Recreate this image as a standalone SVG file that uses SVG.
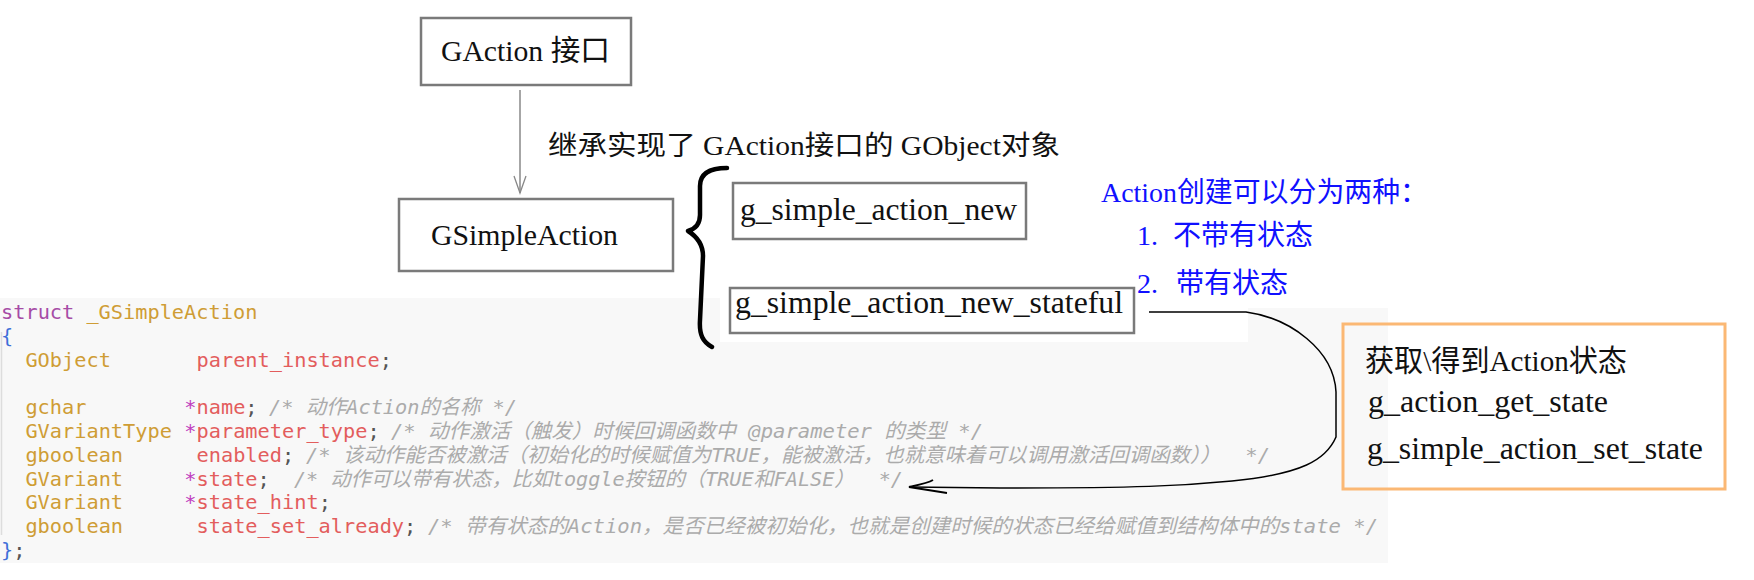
<svg xmlns="http://www.w3.org/2000/svg" width="1754" height="580" viewBox="0 0 1754 580">
<style>
.box{fill:#fff;stroke:#7a7a7a;stroke-width:2.5}
.lbl{font-family:"Liberation Serif","Noto Sans CJK SC",serif;fill:#111}
.blue{font-family:"Liberation Serif","Noto Sans CJK SC",serif;fill:#1010ff;font-size:28px}
.code{font-family:"DejaVu Sans Mono","Noto Sans CJK SC",monospace;font-size:20.3px}
.kw{fill:#a64ca6}
.ty{fill:#cf9d35}
.id{fill:#e35d5d}
.pt{fill:#c040c0}
.sc{fill:#555}
.br{fill:#3f6fd8}
.cm{fill:#ababab;font-style:italic}
</style>
<defs>
<marker id="vhead" viewBox="0 0 20 14" refX="18" refY="7" markerWidth="20" markerHeight="14" markerUnits="userSpaceOnUse" orient="auto">
<path d="M1,1 L18,7 L1,13" fill="none" stroke="#888" stroke-width="1.3"/>
</marker>
</defs>
<rect width="1754" height="580" fill="#fff"/>

<g id="node-code">
<rect x="0" y="298" width="1388" height="265" fill="#f8f8f8"/>
<rect x="720" y="298" width="528" height="44" fill="#fff"/>
<rect x="1248" y="298" width="140" height="10" fill="#fff"/>
<line x1="1.5" y1="332" x2="1.5" y2="535" stroke="#ddd" stroke-width="1.5"/>
<text class="code" y="319"><tspan class="kw" x="1">struct</tspan><tspan class="ty" x="86.4">_GSimpleAction</tspan></text>
<text class="code" y="343"><tspan class="br" x="1">{</tspan></text>
<text class="code" y="367"><tspan class="ty" x="25.4">GObject</tspan><tspan class="id" x="196.5">parent_instance</tspan><tspan class="sc">;</tspan></text>
<text class="code" y="414"><tspan class="ty" x="25.4">gchar</tspan><tspan class="pt" x="184.3">*</tspan><tspan class="id">name</tspan><tspan class="sc">;</tspan></text>
<text class="code cm" x="269" y="414" textLength="248" lengthAdjust="spacingAndGlyphs">/* 动作Action的名称 */</text>
<text class="code" y="438"><tspan class="ty" x="25.4">GVariantType</tspan><tspan class="pt" x="184.3">*</tspan><tspan class="id">parameter_type</tspan><tspan class="sc">;</tspan></text>
<text class="code cm" x="391" y="438" textLength="592" lengthAdjust="spacingAndGlyphs">/* 动作激活（触发）时候回调函数中 @parameter 的类型 */</text>
<text class="code" y="462"><tspan class="ty" x="25.4">gboolean</tspan><tspan class="id" x="196.5">enabled</tspan><tspan class="sc">;</tspan></text>
<text class="code cm" x="306" y="462" xml:space="preserve" textLength="964" lengthAdjust="spacingAndGlyphs">/* 该动作能否被激活（初始化的时候赋值为TRUE，能被激活，也就意味着可以调用激活回调函数））  */</text>
<text class="code" y="485.5"><tspan class="ty" x="25.4">GVariant</tspan><tspan class="pt" x="184.3">*</tspan><tspan class="id">state</tspan><tspan class="sc">;</tspan></text>
<text class="code cm" x="294" y="485.5" xml:space="preserve" textLength="609" lengthAdjust="spacingAndGlyphs">/* 动作可以带有状态，比如toggle按钮的（TRUE和FALSE）  */</text>
<text class="code" y="509"><tspan class="ty" x="25.4">GVariant</tspan><tspan class="pt" x="184.3">*</tspan><tspan class="id">state_hint</tspan><tspan class="sc">;</tspan></text>
<text class="code" y="533"><tspan class="ty" x="25.4">gboolean</tspan><tspan class="id" x="196.5">state_set_already</tspan><tspan class="sc">;</tspan></text>
<text class="code cm" x="428" y="533" textLength="950" lengthAdjust="spacingAndGlyphs">/* 带有状态的Action，是否已经被初始化，也就是创建时候的状态已经给赋值到结构体中的state */</text>
<text class="code" y="557"><tspan class="br" x="1">}</tspan><tspan class="sc">;</tspan></text>
</g>

<g id="node-gaction">
<rect class="box" x="421" y="18" width="210" height="67"/>
<text class="lbl" x="441" y="61" font-size="29" textLength="169" lengthAdjust="spacingAndGlyphs">GAction 接口</text>
</g>

<g id="node-gsimpleaction">
<rect class="box" x="399" y="199" width="274" height="72"/>
<text class="lbl" x="431" y="245" font-size="30" textLength="187" lengthAdjust="spacingAndGlyphs">GSimpleAction</text>
</g>

<g id="node-new">
<rect class="box" x="733" y="183" width="293" height="56"/>
<text class="lbl" x="740" y="220" font-size="31" textLength="277" lengthAdjust="spacingAndGlyphs">g_simple_action_new</text>
</g>

<g id="node-stateful">
<rect class="box" x="730" y="288" width="404" height="45"/>
<text class="lbl" x="735" y="313" font-size="31" textLength="388" lengthAdjust="spacingAndGlyphs">g_simple_action_new_stateful</text>
</g>

<g id="node-note">
<text class="blue" x="1101" y="202" textLength="327" lengthAdjust="spacingAndGlyphs">Action创建可以分为两种：</text>
<text class="blue" x="1137" y="245">1. <tspan x="1173">不带有状态</tspan></text>
<text class="blue" x="1137" y="293">2. <tspan x="1176">带有状态</tspan></text>
</g>

<g id="node-state">
<rect x="1343" y="324" width="382" height="165" fill="none" stroke="#fbb874" stroke-width="3"/>
<text class="lbl" x="1365" y="371" font-size="30" textLength="262" lengthAdjust="spacingAndGlyphs">获取\得到Action状态</text>
<text class="lbl" x="1368" y="412" font-size="31" textLength="240" lengthAdjust="spacingAndGlyphs">g_action_get_state</text>
<text class="lbl" x="1367" y="459" font-size="31" textLength="336" lengthAdjust="spacingAndGlyphs">g_simple_action_set_state</text>
</g>

<g id="connectors">
<line x1="520" y1="90" x2="520" y2="193" stroke="#888" stroke-width="1.5" marker-end="url(#vhead)"/>
<text class="lbl" x="548" y="155" font-size="27" textLength="512" lengthAdjust="spacingAndGlyphs">继承实现了 GAction接口的 GObject对象</text>
<path d="M727,168 C712,168 700,172 700,186 L700,215 C700,225 695,229 688,231 C696,236 703,243 703,256 L700,320 C699,335 703,342 712,347" fill="none" stroke="#000" stroke-width="4.5" stroke-linecap="round" stroke-linejoin="round"/>
<path d="M1149,312 L1246,312 C1290,318 1334,350 1336,392 L1336,437 C1326,460 1302,474 1232,481 C1180,486 1140,488 1000,488 L909,487" fill="none" stroke="#000" stroke-width="1.5"/>
<path d="M933,480 C928,483 918,485 909,487 L947,493" fill="none" stroke="#000" stroke-width="2"/>
</g>
</svg>
